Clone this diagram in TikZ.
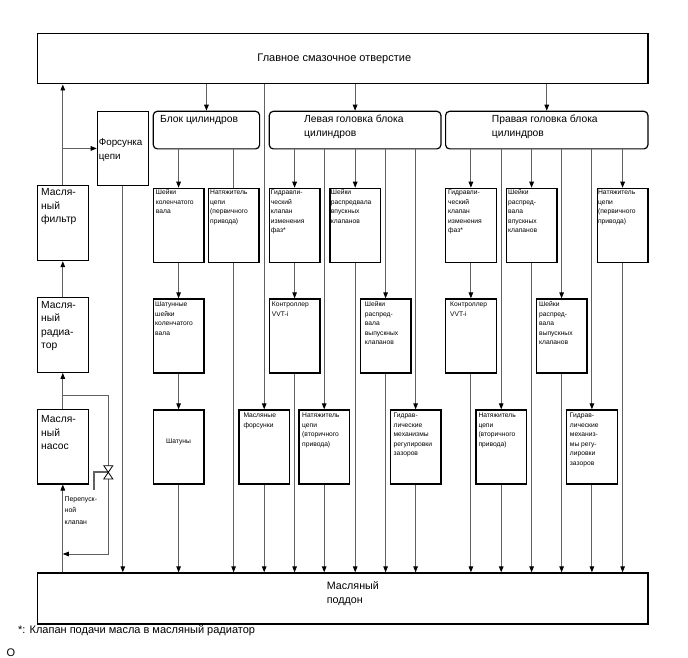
\documentclass[tikz,border=0pt]{standalone}
\usepackage{fontspec}
\setmainfont{Liberation Sans}
\usetikzlibrary{arrows.meta}
\begin{document}
\begin{tikzpicture}[x=1pt,y=-1pt,
  box/.style={draw=black, line width=1.2pt, anchor=north west, inner sep=0pt},
  sbox/.style={box, minimum width=50.6pt, minimum height=74pt},
  rbox/.style={box, rounded corners=4pt, minimum height=37.6pt},
  lbl/.style={anchor=north west, align=left, inner sep=0pt, font=\fontsize{6.7}{9.5}\selectfont},
  r1/.style={lbl, yshift=-2pt},
  r2/.style={lbl, yshift=-3.5pt},
  big/.style={font=\fontsize{10.3}{13.5}\selectfont, align=left, inner sep=0pt},
  mid/.style={font=\fontsize{9.8}{13.5}\selectfont, align=left, inner sep=0pt},
  large/.style={font=\fontsize{11}{13.5}\selectfont, align=left, inner sep=0pt},
  conn/.style={draw=black!62, line width=0.9pt},
  arr/.style={conn, -{Triangle[length=6pt,width=4.6pt,color=black]}},
]
\useasboundingbox (0,0) rectangle (688,658);

% main boxes
\node[box, minimum width=610.6pt, minimum height=50.6pt,
  label={[large, anchor=center, xshift=-8.3pt]center:Главное смазочное отверстие}] (top) at (36.7,32.7) {};
\node[box, minimum width=610.6pt, minimum height=51pt,
  label={[big, font=\fontsize{10.7}{13.7}\selectfont, anchor=north west, xshift=290pt, yshift=-9pt]north west:Масляный\\поддон}] (pan) at (36.7,572.3) {};

% left column
\node[box, minimum width=51pt, minimum height=75pt,
  label={[big, anchor=north west, xshift=4.3pt, yshift=-3.5pt]north west:Масля-\\ный\\фильтр}] (filter) at (36.7,185) {};
\node[box, minimum width=51pt, minimum height=75pt,
  label={[big, anchor=north west, xshift=4.3pt, yshift=-4.3pt]north west:Масля-\\ный\\радиа-\\тор}] (radiator) at (36.7,296.7) {};
\node[box, minimum width=51pt, minimum height=74.3pt,
  label={[big, anchor=north west, xshift=4.3pt, yshift=-6.3pt]north west:Масля-\\ный\\насос}] (pump) at (36.7,409) {};
\node[box, minimum width=51pt, minimum height=74.3pt,
  label={[mid, anchor=west, xshift=2pt, yshift=-1.5pt]west:Форсунка\\цепи}] (forsunka) at (96.7,110.7) {};

% group boxes
\node[rbox, minimum width=106.3pt,
  label={[big, anchor=north west, xshift=7.3pt, yshift=-4.5pt]north west:Блок цилиндров}] (blok) at (152.7,110.7) {};
\node[rbox, minimum width=171.6pt,
  label={[big, anchor=north west, xshift=35.3pt, yshift=-4.5pt]north west:Левая головка блока\\цилиндров}] (lhead) at (268.7,110.7) {};
\node[rbox, minimum width=202.3pt,
  label={[big, anchor=north west, xshift=46.7pt, yshift=-4.3pt]north west:Правая головка блока\\цилиндров}] (rhead) at (445,110.7) {};

% row 1
\node[sbox, label={[r1, xshift=3pt]north west:Шейки\\коленчатого\\вала}] (kv) at (152.7,187.7) {};
\node[sbox, label={[r1, xshift=2.3pt]north west:Натяжитель\\цепи\\(первичного\\привода)}] (nat1) at (207.7,187.7) {};
\node[sbox, label={[r1, xshift=2pt]north west:Гидравли-\\ческий\\клапан\\изменения\\фаз*}] (gkL) at (268.7,187.7) {};
\node[sbox, label={[r1, xshift=1.4pt]north west:Шейки\\распредвала\\впускных\\клапанов}] (svL) at (329.3,187.7) {};
\node[sbox, label={[r1, xshift=3pt]north west:Гидравли-\\ческий\\клапан\\изменения\\фаз*}] (gkR) at (445,187.7) {};
\node[sbox, label={[r1, xshift=2.3pt]north west:Шейки\\распред-\\вала\\впускных\\клапанов}] (svR) at (505.7,187.7) {};
\node[sbox, label={[r1, xshift=1.2pt]north west:Натяжитель\\цепи\\(первичного\\привода)}] (nat1R) at (596.7,187.7) {};

% row 2
\node[sbox, label={[r2, xshift=2.3pt]north west:Шатунные\\шейки\\коленчатого\\вала}] (shat) at (152.7,298.3) {};
\node[sbox, label={[r2, xshift=3pt]north west:Контроллер\\VVT-i}] (vvtL) at (268.7,298.3) {};
\node[sbox, label={[r2, xshift=5pt]north west:Шейки\\распред-\\вала\\выпускных\\клапанов}] (sexL) at (359.7,298.3) {};
\node[sbox, label={[r2, xshift=5pt]north west:Контроллер\\VVT-i}] (vvtR) at (445,298.3) {};
\node[sbox, label={[r2, xshift=3.3pt]north west:Шейки\\распред-\\вала\\выпускных\\клапанов}] (sexR) at (535.7,298.3) {};

% row 3
\node[sbox, label={[lbl, anchor=center, yshift=5pt]center:Шатуны}] (shatuny) at (152.7,409.3) {};
\node[sbox, label={[r2, xshift=5pt]north west:Масляные\\форсунки}] (oilj) at (238.3,409.3) {};
\node[sbox, label={[r2, xshift=3.7pt]north west:Натяжитель\\цепи\\(вторичного\\привода)}] (nat2L) at (298.3,409.3) {};
\node[sbox, label={[r2, xshift=3.7pt]north west:Гидрав-\\лические\\механизмы\\регулировки\\зазоров}] (ghL) at (389.7,409.3) {};
\node[sbox, label={[r2, xshift=3pt]north west:Натяжитель\\цепи\\(вторичного\\привода)}] (nat2R) at (475.3,409.3) {};
\node[sbox, label={[r2, xshift=3.7pt]north west:Гидрав-\\лические\\механиз-\\мы регу-\\лировки\\зазоров}] (ghR) at (566,409.3) {};

% connectors: left column
\draw[arr] (filter.north) -- (filter.north |- top.south);
\draw[arr] (forsunka.west -| filter.north) -- (forsunka.west);
\draw[arr] (radiator.north) -- (filter.south);
\draw[arr] (pump.north) -- (radiator.south);
\draw[arr] (pump.south |- pan.north) -- (pump.south);
\draw[arr] (forsunka.south) -- (forsunka.south |- pan.north);

% bypass valve
\coordinate (bpA) at (108.3,395);
\coordinate (bpB) at (108.3,554);
\coordinate (valve) at (108.3,472.3);
\draw[arr] (bpA -| pump.north) -- (bpA) -- (bpB) -- (bpB -| pump.south);
\draw[draw=black!62, line width=1.7pt] (valve) -- ++(-14.3,0) -- ++(0,18);
\draw[black, line width=0.8pt, fill=white] (valve) ++(-4.5,-6.6) -- ++(9,0) -- ++(-9,13.2) -- ++(9,0) -- cycle;
\node[lbl, font=\fontsize{6.9}{11.3}\selectfont] (bptext) at (64.5,496.5) {Перепуск-\\ной\\клапан};

% from main gallery
\draw[arr] (blok.north |- top.south) -- (blok.north);
\draw[arr] (lhead.north |- top.south) -- (lhead.north);
\draw[arr] (rhead.north |- top.south) -- (rhead.north);
\draw[arr] (oilj.north |- top.south) -- (oilj.north);

% cylinder block
\draw[arr] (kv.north |- blok.south) -- (kv.north);
\draw[conn] (nat1.north |- blok.south) -- (nat1.north);
\draw[arr] (kv.south) -- (shat.north);
\draw[arr] (shat.south) -- (shatuny.north);
\draw[arr] (shatuny.south) -- (shatuny.south |- pan.north);
\draw[arr] (nat1.south) -- (nat1.south |- pan.north);
\draw[arr] (oilj.south) -- (oilj.south |- pan.north);

% left head
\draw[arr] (gkL.north |- lhead.south) -- (gkL.north);
\draw[arr] (svL.north |- lhead.south) -- (svL.north);
\draw[arr] (nat2L.north |- lhead.south) -- (nat2L.north);
\draw[arr] (sexL.north |- lhead.south) -- (sexL.north);
\draw[arr] (ghL.north |- lhead.south) -- (ghL.north);
\draw[arr] (gkL.south) -- (vvtL.north);
\draw[arr] (vvtL.south) -- (vvtL.south |- pan.north);
\draw[arr] (nat2L.south) -- (nat2L.south |- pan.north);
\draw[arr] (svL.south) -- (svL.south |- pan.north);
\draw[arr] (sexL.south) -- (sexL.south |- pan.north);
\draw[arr] (ghL.south) -- (ghL.south |- pan.north);

% right head
\draw[arr] (gkR.north |- rhead.south) -- (gkR.north);
\draw[arr] (nat2R.north |- rhead.south) -- (nat2R.north);
\draw[arr] (svR.north |- rhead.south) -- (svR.north);
\draw[arr] (sexR.north |- rhead.south) -- (sexR.north);
\draw[arr] (ghR.north |- rhead.south) -- (ghR.north);
\draw[arr] (nat1R.north |- rhead.south) -- (nat1R.north);
\draw[arr] (gkR.south) -- (vvtR.north);
\draw[arr] (vvtR.south) -- (vvtR.south |- pan.north);
\draw[arr] (nat2R.south) -- (nat2R.south |- pan.north);
\draw[arr] (svR.south) -- (svR.south |- pan.north);
\draw[arr] (sexR.south) -- (sexR.south |- pan.north);
\draw[arr] (ghR.south) -- (ghR.south |- pan.north);
\draw[arr] (nat1R.south) -- (nat1R.south |- pan.north);

% footnote
\node[large, anchor=west] (note) at (18,630.7) {*: Клапан подачи масла в масляный радиатор};
\node[large, anchor=base west] (omark) at (6.5,656.5) {O};
\end{tikzpicture}
\end{document}
